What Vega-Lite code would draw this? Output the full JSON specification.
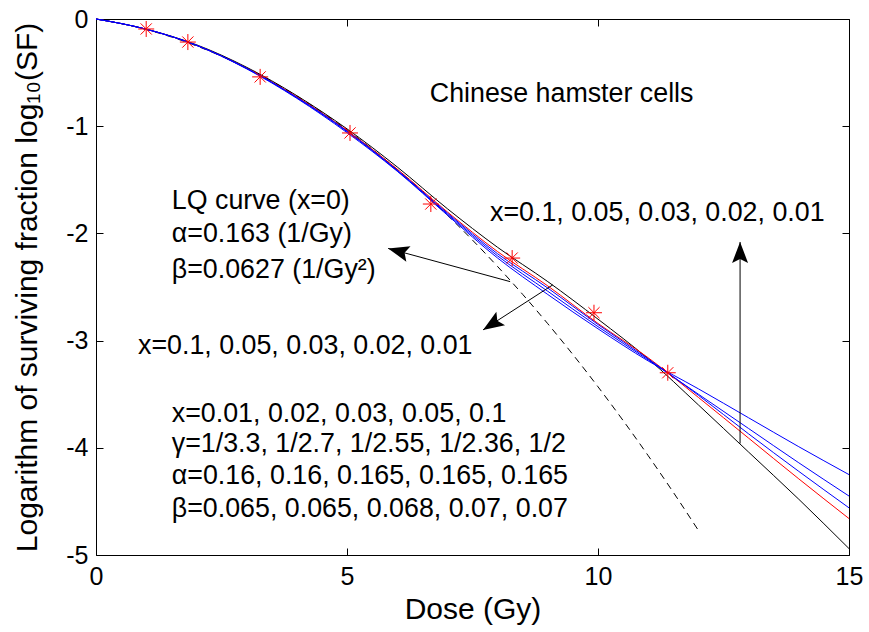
{
  "$schema": "https://vega.github.io/schema/vega-lite/v6.json",
  "width": 753,
  "height": 536,
  "autosize": "none",
  "padding": {"left": 96, "top": 19, "right": 20, "bottom": 77},
  "background": "white",
  "config": {
    "font": "Liberation Sans",
    "view": {"stroke": "black", "strokeWidth": 1},
    "axis": {
      "grid": false,
      "domain": false,
      "tickColor": "black",
      "tickSize": -7,
      "tickWidth": 1,
      "labelColor": "black",
      "labelFontSize": 25,
      "labelFont": "Liberation Sans",
      "labelFlush": false,
      "titleColor": "black",
      "titleFont": "Liberation Sans",
      "titleFontSize": 30,
      "titleFontWeight": "normal"
    }
  },
  "datasets": {
    "curves": [
      {"series": "k", "dose": 0, "logsf": 0}, {"series": "k", "dose": 1, "logsf": -0.095}, {"series": "k", "dose": 2, "logsf": -0.24},
      {"series": "k", "dose": 3, "logsf": -0.45}, {"series": "k", "dose": 4, "logsf": -0.715}, {"series": "k", "dose": 5, "logsf": -1.025},
      {"series": "k", "dose": 6, "logsf": -1.38}, {"series": "k", "dose": 7, "logsf": -1.77}, {"series": "k", "dose": 8, "logsf": -2.13},
      {"series": "k", "dose": 9, "logsf": -2.45}, {"series": "k", "dose": 10, "logsf": -2.8}, {"series": "k", "dose": 11, "logsf": -3.17},
      {"series": "k", "dose": 12, "logsf": -3.6}, {"series": "k", "dose": 13, "logsf": -4.04}, {"series": "k", "dose": 14, "logsf": -4.48},
      {"series": "k", "dose": 15, "logsf": -4.94},

      {"series": "r", "dose": 0, "logsf": 0}, {"series": "r", "dose": 1, "logsf": -0.095}, {"series": "r", "dose": 2, "logsf": -0.245},
      {"series": "r", "dose": 3, "logsf": -0.46}, {"series": "r", "dose": 4, "logsf": -0.725}, {"series": "r", "dose": 5, "logsf": -1.04},
      {"series": "r", "dose": 6, "logsf": -1.4}, {"series": "r", "dose": 7, "logsf": -1.8}, {"series": "r", "dose": 8, "logsf": -2.17},
      {"series": "r", "dose": 9, "logsf": -2.49}, {"series": "r", "dose": 10, "logsf": -2.84}, {"series": "r", "dose": 11, "logsf": -3.16},
      {"series": "r", "dose": 12, "logsf": -3.53}, {"series": "r", "dose": 13, "logsf": -3.91}, {"series": "r", "dose": 14, "logsf": -4.29},
      {"series": "r", "dose": 15, "logsf": -4.66},

      {"series": "b1", "dose": 0, "logsf": 0}, {"series": "b1", "dose": 1, "logsf": -0.095}, {"series": "b1", "dose": 2, "logsf": -0.245},
      {"series": "b1", "dose": 3, "logsf": -0.46}, {"series": "b1", "dose": 4, "logsf": -0.73}, {"series": "b1", "dose": 5, "logsf": -1.045},
      {"series": "b1", "dose": 6, "logsf": -1.41}, {"series": "b1", "dose": 7, "logsf": -1.81}, {"series": "b1", "dose": 8, "logsf": -2.19},
      {"series": "b1", "dose": 9, "logsf": -2.51}, {"series": "b1", "dose": 10, "logsf": -2.85}, {"series": "b1", "dose": 11, "logsf": -3.17},
      {"series": "b1", "dose": 12, "logsf": -3.51}, {"series": "b1", "dose": 13, "logsf": -3.87}, {"series": "b1", "dose": 14, "logsf": -4.22},
      {"series": "b1", "dose": 15, "logsf": -4.56},

      {"series": "b2", "dose": 0, "logsf": 0}, {"series": "b2", "dose": 1, "logsf": -0.095}, {"series": "b2", "dose": 2, "logsf": -0.245},
      {"series": "b2", "dose": 3, "logsf": -0.46}, {"series": "b2", "dose": 4, "logsf": -0.735}, {"series": "b2", "dose": 5, "logsf": -1.05},
      {"series": "b2", "dose": 6, "logsf": -1.415}, {"series": "b2", "dose": 7, "logsf": -1.82}, {"series": "b2", "dose": 8, "logsf": -2.21},
      {"series": "b2", "dose": 9, "logsf": -2.54}, {"series": "b2", "dose": 10, "logsf": -2.87}, {"series": "b2", "dose": 11, "logsf": -3.18},
      {"series": "b2", "dose": 12, "logsf": -3.5}, {"series": "b2", "dose": 13, "logsf": -3.82}, {"series": "b2", "dose": 14, "logsf": -4.14},
      {"series": "b2", "dose": 15, "logsf": -4.45},

      {"series": "b3", "dose": 0, "logsf": 0}, {"series": "b3", "dose": 1, "logsf": -0.095}, {"series": "b3", "dose": 2, "logsf": -0.245},
      {"series": "b3", "dose": 3, "logsf": -0.465}, {"series": "b3", "dose": 4, "logsf": -0.74}, {"series": "b3", "dose": 5, "logsf": -1.06},
      {"series": "b3", "dose": 6, "logsf": -1.42}, {"series": "b3", "dose": 7, "logsf": -1.83}, {"series": "b3", "dose": 8, "logsf": -2.23},
      {"series": "b3", "dose": 9, "logsf": -2.57}, {"series": "b3", "dose": 10, "logsf": -2.89}, {"series": "b3", "dose": 11, "logsf": -3.19},
      {"series": "b3", "dose": 12, "logsf": -3.45}, {"series": "b3", "dose": 13, "logsf": -3.72}, {"series": "b3", "dose": 14, "logsf": -3.99},
      {"series": "b3", "dose": 15, "logsf": -4.25}
    ],
    "lq": [
      {"dose": 0, "logsf": 0}, {"dose": 0.5, "logsf": -0.0422}, {"dose": 1, "logsf": -0.098}, {"dose": 1.5, "logsf": -0.1675},
      {"dose": 2, "logsf": -0.2505}, {"dose": 2.5, "logsf": -0.3472}, {"dose": 3, "logsf": -0.4574}, {"dose": 3.5, "logsf": -0.5813},
      {"dose": 4, "logsf": -0.7188}, {"dose": 4.5, "logsf": -0.87}, {"dose": 5, "logsf": -1.0347}, {"dose": 5.5, "logsf": -1.2131},
      {"dose": 6, "logsf": -1.405}, {"dose": 6.5, "logsf": -1.6106}, {"dose": 7, "logsf": -1.8298}, {"dose": 7.5, "logsf": -2.0626},
      {"dose": 8, "logsf": -2.3091}, {"dose": 8.5, "logsf": -2.5691}, {"dose": 9, "logsf": -2.8428}, {"dose": 9.5, "logsf": -3.1301},
      {"dose": 10, "logsf": -3.4309}, {"dose": 10.5, "logsf": -3.7454}, {"dose": 11, "logsf": -4.0735}, {"dose": 11.5, "logsf": -4.4151},
      {"dose": 12, "logsf": -4.7706}
    ],
    "measured": [
      {"dose": 1.0, "logsf": -0.093}, {"dose": 1.83, "logsf": -0.215}, {"dose": 3.27, "logsf": -0.54},
      {"dose": 5.06, "logsf": -1.063}, {"dose": 6.67, "logsf": -1.726}, {"dose": 8.29, "logsf": -2.23},
      {"dose": 9.92, "logsf": -2.74}, {"dose": 11.39, "logsf": -3.3}
    ],
    "arrows": [
      {"arrow": "lq", "dose": 8.25, "logsf": -2.45, "dose2": 5.82, "logsf2": -2.14},
      {"arrow": "x", "dose": 9.1, "logsf": -2.48, "dose2": 7.71, "logsf2": -2.9},
      {"arrow": "up", "dose": 12.83, "logsf": -3.96, "dose2": 12.83, "logsf2": -2.08}
    ],
    "notes": [
      {"dose": 6.65, "logsf": -0.774, "label": "Chinese hamster cells"},
      {"dose": 1.51, "logsf": -1.772, "label": "LQ curve (x=0)"},
      {"dose": 1.51, "logsf": -2.08, "label": "α=0.163 (1/Gy)"},
      {"dose": 1.51, "logsf": -2.42, "label": "β=0.0627 (1/Gy²)"},
      {"dose": 7.85, "logsf": -1.884, "label": "x=0.1, 0.05, 0.03, 0.02, 0.01"},
      {"dose": 0.837, "logsf": -3.125, "label": "x=0.1, 0.05, 0.03, 0.02, 0.01"},
      {"dose": 1.51, "logsf": -3.757, "label": "x=0.01, 0.02, 0.03, 0.05, 0.1"},
      {"dose": 1.51, "logsf": -4.039, "label": "γ=1/3.3, 1/2.7, 1/2.55, 1/2.36, 1/2"},
      {"dose": 1.51, "logsf": -4.338, "label": "α=0.16, 0.16, 0.165, 0.165, 0.165"},
      {"dose": 1.51, "logsf": -4.643, "label": "β=0.065, 0.065, 0.068, 0.07, 0.07"}
    ]
  },
  "layer": [
    {
      "data": {"name": "lq"},
      "mark": {"type": "line", "color": "black", "strokeWidth": 1, "strokeDash": [7, 5], "interpolate": "monotone"},
      "encoding": {
        "x": {"field": "dose", "type": "quantitative", "scale": {"domain": [0, 15], "nice": false, "zero": false}, "axis": null},
        "y": {"field": "logsf", "type": "quantitative", "scale": {"domain": [-5, 0], "nice": false, "zero": false}, "axis": null}
      }
    },
    {
      "data": {"name": "curves"},
      "mark": {"type": "line", "strokeWidth": 1, "interpolate": "monotone"},
      "encoding": {
        "x": {
          "field": "dose", "type": "quantitative",
          "scale": {"domain": [0, 15], "nice": false, "zero": false},
          "axis": {"orient": "bottom", "values": [0, 5, 10, 15], "title": "Dose (Gy)", "labelPadding": 16, "titlePadding": 5}
        },
        "y": {
          "field": "logsf", "type": "quantitative",
          "scale": {"domain": [-5, 0], "nice": false, "zero": false},
          "axis": {
            "orient": "left", "values": [0, -1, -2, -3, -4, -5],
            "labelExpr": "replace(datum.label, '−', '-')",
            "title": "Logarithm of surviving fraction log₁₀(SF)", "labelPadding": 15, "titlePadding": 23
          }
        },
        "color": {
          "field": "series", "type": "nominal", "legend": null,
          "scale": {"domain": ["k", "r", "b1", "b2", "b3"], "range": ["#000000", "#ff0000", "#0000ff", "#0000ff", "#0000ff"]}
        },
        "order": {"field": "dose", "type": "quantitative"}
      }
    },
    {
      "data": {"name": "measured"},
      "mark": {"type": "point", "shape": "M0,-1L0,1M-1,0L1,0M-0.7,-0.7L0.7,0.7M-0.7,0.7L0.7,-0.7", "filled": false, "color": "#ff0000", "size": 256, "strokeWidth": 1, "opacity": 1},
      "encoding": {
        "x": {
          "field": "dose", "type": "quantitative",
          "scale": {"domain": [0, 15], "nice": false, "zero": false},
          "axis": {"orient": "top", "values": [0, 5, 10, 15], "labels": false, "title": null}
        },
        "y": {
          "field": "logsf", "type": "quantitative",
          "scale": {"domain": [-5, 0], "nice": false, "zero": false},
          "axis": {"orient": "right", "values": [0, -1, -2, -3, -4, -5], "labels": false, "title": null}
        }
      }
    },
    {
      "data": {"name": "arrows"},
      "mark": {"type": "rule", "color": "black", "strokeWidth": 1},
      "encoding": {
        "x": {"field": "dose", "type": "quantitative", "scale": {"domain": [0, 15], "nice": false, "zero": false}, "axis": null},
        "y": {"field": "logsf", "type": "quantitative", "scale": {"domain": [-5, 0], "nice": false, "zero": false}, "axis": null},
        "x2": {"field": "dose2"},
        "y2": {"field": "logsf2"}
      }
    },
    {
      "data": {"name": "arrows"},
      "transform": [{"filter": "datum.arrow === 'lq'"}],
      "mark": {"type": "point", "shape": "M0,0L0.8,2.1L0,1.7L-0.8,2.1Z", "filled": true, "color": "black", "size": 400, "angle": 285.2, "opacity": 1},
      "encoding": {
        "x": {"field": "dose2", "type": "quantitative", "scale": {"domain": [0, 15], "nice": false, "zero": false}, "axis": null},
        "y": {"field": "logsf2", "type": "quantitative", "scale": {"domain": [-5, 0], "nice": false, "zero": false}, "axis": null}
      }
    },
    {
      "data": {"name": "arrows"},
      "transform": [{"filter": "datum.arrow === 'x'"}],
      "mark": {"type": "point", "shape": "M0,0L0.8,2.1L0,1.7L-0.8,2.1Z", "filled": true, "color": "black", "size": 400, "angle": 237.2, "opacity": 1},
      "encoding": {
        "x": {"field": "dose2", "type": "quantitative", "scale": {"domain": [0, 15], "nice": false, "zero": false}, "axis": null},
        "y": {"field": "logsf2", "type": "quantitative", "scale": {"domain": [-5, 0], "nice": false, "zero": false}, "axis": null}
      }
    },
    {
      "data": {"name": "arrows"},
      "transform": [{"filter": "datum.arrow === 'up'"}],
      "mark": {"type": "point", "shape": "M0,0L0.8,2.1L0,1.7L-0.8,2.1Z", "filled": true, "color": "black", "size": 400, "angle": 0, "opacity": 1},
      "encoding": {
        "x": {"field": "dose2", "type": "quantitative", "scale": {"domain": [0, 15], "nice": false, "zero": false}, "axis": null},
        "y": {"field": "logsf2", "type": "quantitative", "scale": {"domain": [-5, 0], "nice": false, "zero": false}, "axis": null}
      }
    },
    {
      "data": {"name": "notes"},
      "mark": {"type": "text", "align": "left", "baseline": "alphabetic", "font": "Liberation Sans", "fontSize": 26.8, "color": "black"},
      "encoding": {
        "x": {"field": "dose", "type": "quantitative", "scale": {"domain": [0, 15], "nice": false, "zero": false}, "axis": null},
        "y": {"field": "logsf", "type": "quantitative", "scale": {"domain": [-5, 0], "nice": false, "zero": false}, "axis": null},
        "text": {"field": "label"}
      }
    }
  ],
  "resolve": {"axis": {"x": "independent", "y": "independent"}}
}
